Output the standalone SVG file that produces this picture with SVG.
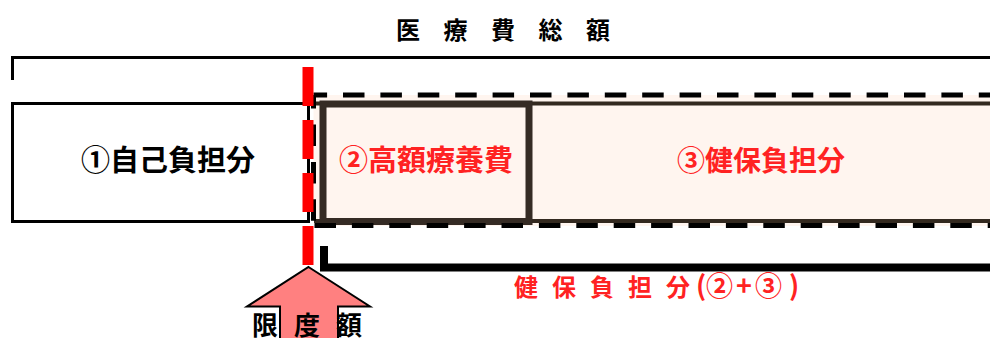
<svg xmlns="http://www.w3.org/2000/svg" width="990" height="338" viewBox="0 0 990 338">
<style>
.t{font-family:"Noto Sans CJK JP","Noto Sans CJK SC",sans-serif;font-weight:bold}
.blk{fill:#000}
.red{fill:#FF2222}
.dash{fill:none;stroke:#000;stroke-width:5;stroke-dasharray:21.5 15.9}
.row{fill:none;stroke:#33291F;stroke-width:4}
</style>
<rect width="990" height="338" fill="#fff"/>
<g id="title">
<text class="t blk" font-size="24" x="396 443.5 491 538.5 586" y="39">医療費総額</text>
</g>
<g id="connectors">
<path d="M12.5,80 V57.5 H990" fill="none" stroke="#000" stroke-width="3"/>
<path d="M324,246 V267.5 H990" fill="none" stroke="#000" stroke-width="8" stroke-linejoin="miter"/>
</g>
<g id="insured-area">
<rect x="313.5" y="95" width="677" height="131" fill="#FFF5EF"/>
<line class="row" x1="314" y1="103.5" x2="990" y2="103.5"/>
<line class="row" x1="314" y1="221" x2="990" y2="221"/>
</g>
<g id="box1">
<rect x="12.5" y="103.5" width="296" height="118" fill="#fff" stroke="#000" stroke-width="3"/>
<text class="t blk" font-size="29" x="168" y="171" text-anchor="middle">①自己負担分</text>
</g>
<g id="box2">
<rect x="323" y="104" width="206" height="117.5" fill="#FFF5EF" stroke="#352B24" stroke-width="7"/>
<text class="t red" font-size="29" x="426" y="171" text-anchor="middle">②高額療養費</text>
</g>
<g id="box3">
<text class="t red" font-size="28" x="761" y="171" text-anchor="middle">③健保負担分</text>
</g>
<g id="dashed-frame">
<path class="dash" d="M313.5,95 H990" stroke-dashoffset="7.9"/>
<path class="dash" d="M313.5,95 V225.5" stroke-dashoffset="7.9"/>
<path class="dash" d="M313.5,225.5 H990" stroke-dashoffset="-1"/>
</g>
<g id="limit-line">
<line x1="308" y1="67" x2="308" y2="267" stroke="#FF0000" stroke-width="11" stroke-dasharray="39 14"/>
</g>
<g id="limit-arrow">
<polygon points="308.5,267 370,306.5 338,306.5 338,340 280,340 280,306.5 247,306.5" fill="#FF8080" stroke="#000" stroke-width="2"/>
<text class="t blk" font-size="26" x="252 294 336" y="334.5">限度額</text>
</g>
<g id="insured-label">
<text class="t red" font-size="24" y="296"><tspan x="514 552 590 628 666">健保負担分</tspan><tspan font-size="27" x="696 706 736 755 789">(②+③)</tspan></text>
</g>
</svg>
